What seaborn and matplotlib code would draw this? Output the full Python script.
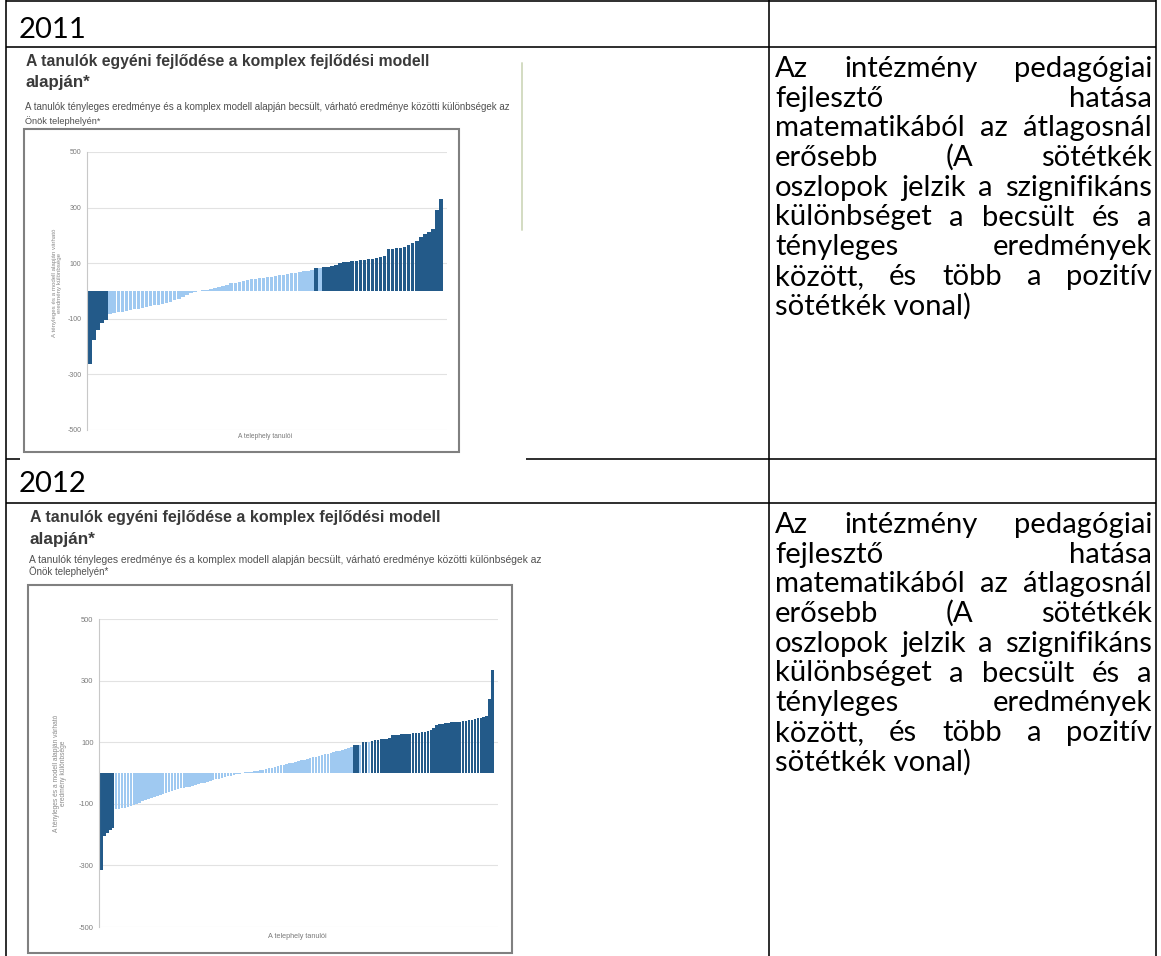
"""Two screenshots of the OKM 'komplex fejlődési modell' chart in a Word-like table."""

import matplotlib

matplotlib.use("Agg")
import matplotlib.pyplot as plt
import pandas as pd
import seaborn as sns
from matplotlib.lines import Line2D
from matplotlib.patches import Rectangle

W, H = 1161, 956

YEARS = ["2011", "2012"]

# difference between actual and estimated score, one bar per student (sorted)
DIFF_2011 = [
    -262, -178, -140, -115, -104,
    -82, -80, -77, -74, -71, -68, -66, -63, -61, -58,
    -55, -52, -49, -46, -42, -38, -33, -28, -22, -15,
    -8, -3, 1, 3, 5, 8, 12, 15, 19, 23,
    27, 30, 33, 36, 39, 42, 44, 46, 48, 50,
    52, 55, 57, 59, 62, 64, 66, 69, 71, 73,
    75, 83, 83, 86, 88, 91, 95, 100, 103, 105,
    107, 109, 111, 112, 114, 116, 118, 122, 127, 150,
    152, 154, 156, 160, 165, 172, 180, 195, 205, 212,
    222, 290, 330,
]
SIG_2011 = [
    1, 1, 1, 1, 1, 0, 0, 0, 0, 0,
    0, 0, 0, 0, 0, 0, 0, 0, 0, 0,
    0, 0, 0, 0, 0, 0, 0, 0, 0, 0,
    0, 0, 0, 0, 0, 0, 0, 0, 0, 0,
    0, 0, 0, 0, 0, 0, 0, 0, 0, 0,
    0, 0, 0, 0, 0, 0, 1, 0, 1, 1,
    1, 1, 1, 1, 1, 1, 1, 1, 1, 1,
    1, 1, 1, 1, 1, 1, 1, 1, 1, 1,
    1, 1, 1, 1, 1, 1, 1, 1,
]

DIFF_2012 = [
    -315, -205, -194, -185, -178,
    -118, -116, -114, -113, -111, -108, -105, -100, -96, -92,
    -88, -84, -80, -77, -74, -71, -68, -64, -61, -58,
    -55, -53, -50, -48, -46, -44, -41, -39, -36, -33,
    -31, -28, -26, -23, -21, -18, -15, -13, -11, -9,
    -6, -4, -2, 1, 2, 3, 4, 6, 7, 9,
    11, 13, 15, 17, 19, 22, 25, 27, 29, 31,
    34, 36, 38, 41, 43, 46, 48, 51, 53, 56,
    58, 61, 63, 66, 68, 71, 73, 76, 78, 81,
    83, 90, 91, 92, 100, 101, 101, 105, 107, 108,
    110, 111, 112, 114, 122, 124, 125, 126, 127, 128,
    128, 129, 130, 131, 132, 134, 137, 141, 146, 155,
    158, 160, 161, 162, 164, 165, 166, 167, 168, 169,
    171, 173, 175, 177, 179, 182, 186, 240, 335,
]
SIG_2012 = [
    1, 1, 1, 1, 1, 0, 0, 0, 0, 0,
    0, 0, 0, 0, 0, 0, 0, 0, 0, 0,
    0, 0, 0, 0, 0, 0, 0, 0, 0, 0,
    0, 0, 0, 0, 0, 0, 0, 0, 0, 0,
    0, 0, 0, 0, 0, 0, 0, 0, 0, 0,
    0, 0, 0, 0, 0, 0, 0, 0, 0, 0,
    0, 0, 0, 0, 0, 0, 0, 0, 0, 0,
    0, 0, 0, 0, 0, 0, 0, 0, 0, 0,
    0, 0, 0, 0, 0, 0, 1, 1, 0, 1,
    1, 0, 1, 1, 1, 1, 1, 1, 1, 1,
    1, 1, 1, 1, 1, 1, 1, 1, 1, 1,
    1, 1, 1, 1, 1, 1, 1, 1, 1, 1,
    1, 1, 1, 1, 1, 1, 1, 1, 1, 1,
    1, 1, 1, 1,
]

Y_TICKS = [-500, -300, -100, 100, 300, 500]

CHART_TITLE = ["A tanulók egyéni fejlődése a komplex fejlődési modell", "alapján*"]
CHART_SUBTITLE = [
    "A tanulók tényleges eredménye és a komplex modell alapján becsült, várható eredménye közötti különbségek az",
    "Önök telephelyén*",
]
Y_LABEL = "A tényleges és a modell alapján várható\neredmény különbsége"
X_LABEL = "A telephely tanulói"

COMMENT_LINES = [
    "Az intézmény pedagógiai",
    "fejlesztő hatása",
    "matematikából az átlagosnál",
    "erősebb (A sötétkék",
    "oszlopok jelzik a szignifikáns",
    "különbséget a becsült és a",
    "tényleges eredmények",
    "között, és több a pozitív",
    "sötétkék vonal)",
]

LIGHT = "#9fc9f1"
DARK = "#235a89"
CHART_FONT = ["Liberation Sans", "DejaVu Sans"]
DOC_FONT = ["Lato", "DejaVu Sans"]

# pixel layout of each table row (x0, y0, x1, y1 from the top-left corner)
LAYOUT = {
    "2011": dict(cover=(20, 48, 526, 461), frame=(24, 129, 459, 452), axes=(87, 152, 447, 430),
                 bars=(88, 443), title_x=26, title_base=(66, 87), title_w=404,
                 sub_base=(110, 124), sub_w=488, ylabel=(57, 283), xlabel=(265, 437),
                 small=5.0, header_base=38, text_base=77),
    "2012": dict(cover=(14, 505, 530, 956), frame=(28, 585, 512, 953), axes=(99, 619, 498, 927),
                 bars=(100, 494), title_x=30, title_base=(522, 544), title_w=410,
                 sub_base=(563, 575), sub_w=515, ylabel=(60, 773), xlabel=(297, 936),
                 small=5.4, header_base=492, text_base=533),
}


def fx(x):
    return x / W


def fy(y):
    return 1 - y / H


sns.set_style("white")
plt.rcParams["axes.unicode_minus"] = False
fig = plt.figure(figsize=(W / 100, H / 100), dpi=100)
fig.patch.set_facecolor("white")
renderer = fig.canvas.get_renderer()


def line(x0, y0, x1, y1, lw=1.6, color="black"):
    fig.add_artist(Line2D([fx(x0), fx(x1)], [fy(y0), fy(y1)], lw=lw * 0.72, color=color,
                          solid_capstyle="butt", zorder=1))


def fit_text(x, y, s, width, **kw):
    t = fig.text(fx(x), fy(y), s, fontsize=10, va="baseline", zorder=6, **kw)
    w = t.get_window_extent(renderer).width
    t.set_fontsize(10 * width / w)
    return t


def justified(x0, x1, y0, step, lines, size, **kw):
    for k, text in enumerate(lines):
        y = y0 + k * step
        words = text.split()
        if k == len(lines) - 1 or len(words) == 1:
            fig.text(fx(x0), fy(y), text, fontsize=size, va="baseline", zorder=6, **kw)
            continue
        items = [fig.text(0, fy(y), w, fontsize=size, va="baseline", zorder=6, **kw) for w in words]
        widths = [t.get_window_extent(renderer).width for t in items]
        gap = (x1 - x0 - sum(widths)) / (len(words) - 1)
        x = x0
        for t, w in zip(items, widths):
            t.set_x(fx(x))
            x += w + gap


def draw_chart(diffs, sig, lay):
    cx0, cy0, cx1, cy1 = lay["cover"]
    fig.add_artist(Rectangle((fx(cx0), fy(cy1)), (cx1 - cx0) / W, (cy1 - cy0) / H,
                             fc="white", ec="none", zorder=1.5))
    f0, t0, f1, b0 = lay["frame"]
    fig.add_artist(Rectangle((fx(f0), fy(b0)), (f1 - f0) / W, (b0 - t0) / H,
                             fill=False, ec="#808080", lw=1.5, zorder=6))

    for k, s in enumerate(CHART_TITLE):
        fit_text(lay["title_x"], lay["title_base"][k], s, lay["title_w"] if k == 0 else lay["title_w"] * 0.16,
                 family=CHART_FONT, fontweight="bold", color="#3a3a3a")
    fit_text(lay["title_x"] - 1, lay["sub_base"][0], CHART_SUBTITLE[0], lay["sub_w"],
             family=CHART_FONT, color="#505050")
    fit_text(lay["title_x"] - 1, lay["sub_base"][1], CHART_SUBTITLE[1], lay["sub_w"] * 0.155,
             family=CHART_FONT, color="#505050")

    l, t, r, b = lay["axes"]
    ax = fig.add_axes([fx(l), fy(b), (r - l) / W, (b - t) / H])
    ax.set_zorder(4)
    df = pd.DataFrame({
        "tanulo": range(len(diffs)),
        "kulonbseg": diffs,
        "szig": ["szignifikáns" if s else "nem szignifikáns" for s in sig],
    })
    sns.barplot(data=df, x="tanulo", y="kulonbseg", hue="szig",
                palette={"szignifikáns": DARK, "nem szignifikáns": LIGHT},
                dodge=False, width=0.86, linewidth=0, saturation=1, errorbar=None,
                legend=False, ax=ax)
    n = len(diffs)
    bl, br = lay["bars"]
    pitch = (br - bl) / n
    ax.set_xlim(-0.5 - (bl - l) / pitch, n - 0.5 + (r - br) / pitch)
    ax.set_ylim(-500, 500)
    ax.set_yticks(Y_TICKS)
    ax.set_xticks([])
    ax.set_xlabel("")
    ax.set_ylabel("")
    ax.grid(axis="y", color="#e2e2e2", lw=0.8)
    ax.set_axisbelow(True)
    for side in ("top", "right", "bottom"):
        ax.spines[side].set_visible(False)
    ax.spines["left"].set_color("#c8c8c8")
    ax.spines["left"].set_linewidth(0.8)
    ax.tick_params(axis="y", labelsize=lay["small"], colors="#7a7a7a", length=2, width=0.5, pad=2)
    for lab in ax.get_yticklabels():
        lab.set_family(CHART_FONT)

    fig.text(fx(lay["ylabel"][0]), fy(lay["ylabel"][1]), Y_LABEL, rotation=90, ha="center",
             va="center", multialignment="center", fontsize=lay["small"] - 0.6,
             family=CHART_FONT, color="#8a8a8a", zorder=6, linespacing=1.1)
    fig.text(fx(lay["xlabel"][0]), fy(lay["xlabel"][1]), X_LABEL, ha="center", va="center",
             fontsize=lay["small"] - 0.2, family=CHART_FONT, color="#7a7a7a", zorder=6)


# table grid
line(6, 0, 6, H)
line(1156, 0, 1156, H)
line(769, 0, 769, H)
line(6, 1, 1156, 1)
line(6, 47, 1156, 47)
line(6, 459, 1156, 459)
line(6, 503, 1156, 503)

# faint green edge of the first screenshot
fig.add_artist(Line2D([fx(522), fx(522)], [fy(63), fy(230)], lw=1.4, color="#d3dcc2", zorder=2))

probe = fig.text(0, 0, COMMENT_LINES[2], fontsize=20, family=DOC_FONT)
doc_size = 20 * 362 / probe.get_window_extent(renderer).width
probe.remove()

for year, diffs, sig in zip(YEARS, [DIFF_2011, DIFF_2012], [SIG_2011, SIG_2012]):
    lay = LAYOUT[year]
    fig.text(fx(19), fy(lay["header_base"]), year, fontsize=doc_size, va="baseline",
             family=DOC_FONT, color="black", zorder=6)
    draw_chart(diffs, sig, lay)
    justified(775, 1152, lay["text_base"], 29.7, COMMENT_LINES, doc_size,
              family=DOC_FONT, color="black")

fig.savefig("out.png", dpi=100, facecolor="white")
